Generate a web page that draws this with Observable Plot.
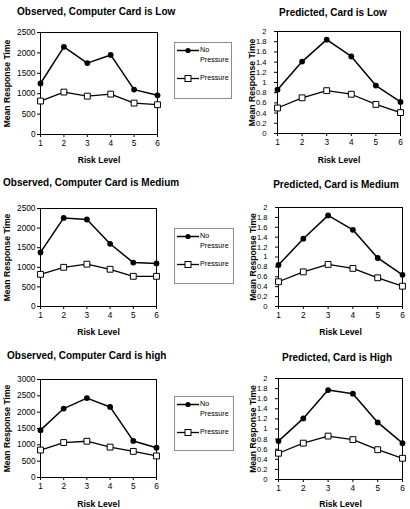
<!DOCTYPE html>
<html>
<head>
<meta charset="utf-8">
<script src="https://cdn.jsdelivr.net/npm/d3@7"></script>
<script src="https://cdn.jsdelivr.net/npm/@observablehq/plot@0.6"></script>
<style>
  body { margin: 0; background: #fff; }
  #page { position: relative; width: 410px; height: 509px; overflow: hidden;
          font-family: "Liberation Sans", Arial, sans-serif; color: #000; background: #fff; }
  .title { position: absolute; font-weight: bold; font-size: 10px; line-height: 12px; white-space: nowrap; }
  .panel { position: absolute; }
  .panel svg [aria-label="x-axis label"] text,
  .panel svg [aria-label="y-axis label"] text { font-weight: bold; font-size: 8.6px; }
  .panel.pred svg [aria-label="y-axis tick label"] text { font-size: 7.6px; }
  .legend { position: absolute; box-sizing: border-box; border: 1px solid #8c8c8c; background: #fff; }
  .legend svg { position: absolute; left: 0; top: 0; overflow: visible; }
  .legend text { font-size: 7.2px; font-family: "Liberation Sans", Arial, sans-serif; }
</style>
</head>
<body>
<div id="page"></div>
<script>
// Risk levels on the x axis
const riskLevels = [1, 2, 3, 4, 5, 6];

// Observed mean response times (ms)
const observedLowNoPressure    = [1250, 2150, 1750, 1950, 1100, 960];
const observedLowPressure      = [820, 1040, 940, 990, 770, 730];
const observedMediumNoPressure = [1380, 2260, 2220, 1600, 1120, 1100];
const observedMediumPressure   = [820, 1000, 1080, 950, 770, 770];
const observedHighNoPressure   = [1450, 2110, 2430, 2160, 1120, 910];
const observedHighPressure     = [840, 1070, 1110, 930, 800, 660];

// Predicted mean response times (model units)
const predictedLowNoPressure    = [0.86, 1.41, 1.84, 1.51, 0.94, 0.62];
const predictedLowPressure      = [0.50, 0.70, 0.84, 0.77, 0.57, 0.41];
const predictedMediumNoPressure = [0.84, 1.37, 1.84, 1.55, 0.98, 0.64];
const predictedMediumPressure   = [0.50, 0.70, 0.85, 0.77, 0.58, 0.41];
const predictedHighNoPressure   = [0.76, 1.21, 1.77, 1.70, 1.13, 0.72];
const predictedHighPressure     = [0.52, 0.72, 0.86, 0.79, 0.59, 0.42];

// Tick values
const observedTicksTo2500 = [0, 500, 1000, 1500, 2000, 2500];
const observedTicksTo3000 = [0, 500, 1000, 1500, 2000, 2500, 3000];
const predictedTicks = [0, 0.2, 0.4, 0.6, 0.8, 1, 1.2, 1.4, 1.6, 1.8, 2];

// Text
const seriesNames = ["No Pressure", "Pressure"];
const xLabel = "Risk Level";
const yLabel = "Mean Response Time";
const panelTitles = [
  "Observed, Computer Card is Low", "Predicted, Card is Low",
  "Observed, Computer Card is Medium", "Predicted, Card is Medium",
  "Observed, Computer Card is high", "Predicted, Card is High"
];

const page = document.getElementById("page");

// Layout of each panel on the page: frame box (fx0..fx1, fy0..fy1) and title placement
const panels = [
  { title: panelTitles[0], np: observedLowNoPressure, p: observedLowPressure, ticks: observedTicksTo2500,
    fx0: 40, fx1: 157, fy0: 32, fy1: 134, tx: 17, ty: 12, kind: "obs", yLabelOffset: 37, tickPad: 2, xLabelOffset: 28,
    legend: { x: 174, y: 42, w: 58, h: 57 } },
  { title: panelTitles[1], np: predictedLowNoPressure, p: predictedLowPressure, ticks: predictedTicks,
    fx0: 277, fx1: 400, fy0: 31, fy1: 133, tx: 333, ty: 13, kind: "pred", yLabelOffset: 29, tickPad: 8, xLabelOffset: 29 },
  { title: panelTitles[2], np: observedMediumNoPressure, p: observedMediumPressure, ticks: observedTicksTo2500,
    fx0: 40, fx1: 156, fy0: 208, fy1: 306, tx: 3, ty: 183, kind: "obs", yLabelOffset: 37, tickPad: 2, xLabelOffset: 28,
    legend: { x: 174, y: 228, w: 60, h: 56 } },
  { title: panelTitles[3], np: predictedMediumNoPressure, p: predictedMediumPressure, ticks: predictedTicks,
    fx0: 278, fx1: 402, fy0: 207, fy1: 306, tx: 336, ty: 185, kind: "pred", yLabelOffset: 29, tickPad: 8, xLabelOffset: 28 },
  { title: panelTitles[4], np: observedHighNoPressure, p: observedHighPressure, ticks: observedTicksTo3000,
    fx0: 40, fx1: 156, fy0: 379, fy1: 477, tx: 7, ty: 356, kind: "obs", yLabelOffset: 37, tickPad: 2, xLabelOffset: 29,
    legend: { x: 174, y: 396, w: 60, h: 55 } },
  { title: panelTitles[5], np: predictedHighNoPressure, p: predictedHighPressure, ticks: predictedTicks,
    fx0: 278, fx1: 402, fy0: 378, fy1: 479, tx: 337, ty: 358, kind: "pred", yLabelOffset: 29, tickPad: 8, xLabelOffset: 27 }
];

const mL = 40, mR = 6, mT = 8, mB = 30;

function drawTitle(cfg) {
  const t = document.createElement("div");
  t.className = "title";
  t.textContent = cfg.title;
  t.style.top = (cfg.ty - 6) + "px";
  t.style.left = cfg.tx + "px";
  if (cfg.kind === "pred") t.style.transform = "translateX(-50%)";
  page.appendChild(t);
}

function drawChart(cfg) {
  const rows = riskLevels.map((r, i) => ({ risk: r, np: cfg.np[i], p: cfg.p[i] }));
  const width = (cfg.fx1 - cfg.fx0) + mL + mR;
  const height = (cfg.fy1 - cfg.fy0) + mT + mB;
  const chart = Plot.plot({
    width, height,
    marginLeft: mL, marginRight: mR, marginTop: mT, marginBottom: mB,
    style: { fontFamily: "'Liberation Sans', Arial, sans-serif", fontSize: "8.3px",
             color: "black", background: "none", overflow: "visible" },
    x: { type: "linear", domain: [1, 6] },
    y: { type: "linear", domain: [0, d3.max(cfg.ticks)] },
    marks: [
      Plot.axisX(riskLevels, { tickSize: 3, tickPadding: 3, tickFormat: (d) => String(d),
        label: xLabel, labelAnchor: "center", labelArrow: "none", labelOffset: cfg.xLabelOffset }),
      Plot.axisY(cfg.ticks, { tickSize: 3, tickPadding: cfg.tickPad, tickFormat: (d) => String(d),
        label: yLabel, labelAnchor: "center", labelArrow: "none", labelOffset: cfg.yLabelOffset }),
      Plot.frame({ stroke: "black", strokeWidth: 1 }),
      Plot.line(rows, { x: "risk", y: "np", stroke: "black", strokeWidth: 1.5 }),
      Plot.line(rows, { x: "risk", y: "p", stroke: "black", strokeWidth: 1.3 }),
      Plot.dot(rows, { x: "risk", y: "np", r: 2.9, fill: "black", stroke: "none" }),
      Plot.dot(rows, { x: "risk", y: "p", symbol: "square", r: 3.3, fill: "white", stroke: "black", strokeWidth: 1 })
    ]
  });
  const holder = document.createElement("div");
  holder.className = "panel " + cfg.kind;
  holder.style.left = (cfg.fx0 - mL) + "px";
  holder.style.top = (cfg.fy0 - mT) + "px";
  holder.appendChild(chart);
  page.appendChild(holder);
}

function drawLegend(lg) {
  const box = document.createElement("div");
  box.className = "legend";
  box.style.left = lg.x + "px";
  box.style.top = lg.y + "px";
  box.style.width = lg.w + "px";
  box.style.height = lg.h + "px";
  const ns = "http://www.w3.org/2000/svg";
  const svg = document.createElementNS(ns, "svg");
  svg.setAttribute("width", lg.w);
  svg.setAttribute("height", lg.h);
  const add = (tag, attrs, text) => {
    const el = document.createElementNS(ns, tag);
    for (const k in attrs) el.setAttribute(k, attrs[k]);
    if (text) el.textContent = text;
    svg.appendChild(el);
    return el;
  };
  // No Pressure entry (two-line label)
  add("line", { x1: 2, x2: 24, y1: 7.5, y2: 7.5, stroke: "black", "stroke-width": 1.5 });
  add("circle", { cx: 13, cy: 7.5, r: 2.6, fill: "black" });
  const words = seriesNames[0].split(" ");
  add("text", { x: 25, y: 7.5, "dominant-baseline": "middle" }, words[0]);
  add("text", { x: 25, y: 17.5, "dominant-baseline": "middle" }, words.slice(1).join(" "));
  // Pressure entry
  add("line", { x1: 2, x2: 24, y1: 35.5, y2: 35.5, stroke: "black", "stroke-width": 1.3 });
  add("rect", { x: 10, y: 32.5, width: 6, height: 6, fill: "white", stroke: "black", "stroke-width": 1 });
  add("text", { x: 25, y: 35.5, "dominant-baseline": "middle" }, seriesNames[1]);
  box.appendChild(svg);
  page.appendChild(box);
}

for (const cfg of panels) {
  drawTitle(cfg);
  drawChart(cfg);
  if (cfg.legend) drawLegend(cfg.legend);
}
</script>
</body>
</html>
